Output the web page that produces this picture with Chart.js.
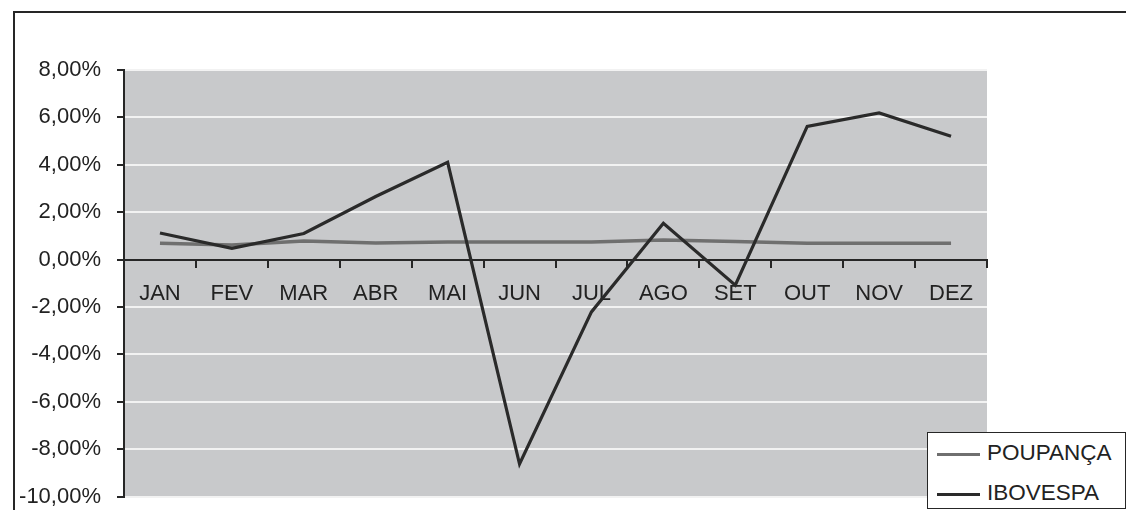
<!DOCTYPE html>
<html>
<head>
    <title>Poupança x Ibovespa</title>
    <script src="https://cdn.jsdelivr.net/npm/chart.js"></script>
    <style>
        body { margin: 0; background: #fff; overflow: hidden; }
        #wrap { position: relative; width: 1126px; height: 510px; }
        #frame { position: absolute; left: 13px; top: 11px; width: 1120px; height: 520px;
                 border-left: 2px solid #262626; border-top: 2px solid #262626; }
        #chart { position: absolute; left: 0; top: 0; }
        #legend { position: absolute; left: 927px; top: 432px; width: 197px; height: 75px;
                  border: 1px solid #262626; background: #fff;
                  font-family: "Liberation Sans", Arial, sans-serif; font-size: 22.5px; color: #222; }
        #legend .item { position: absolute; left: 9px; height: 24px; line-height: 24px; white-space: nowrap; }
        #legend .swatch { display: inline-block; width: 43px; height: 3px; vertical-align: middle; margin-right: 7px; }
    </style>
</head>
<body>
<div id="wrap">
    <div id="frame"></div>
    <canvas id="chart" width="1126" height="510"></canvas>
    <div id="legend"></div>
</div>
<script>
    var months = ['JAN', 'FEV', 'MAR', 'ABR', 'MAI', 'JUN', 'JUL', 'AGO', 'SET', 'OUT', 'NOV', 'DEZ'];
    var poupanca = [0.69, 0.61, 0.78, 0.70, 0.74, 0.74, 0.74, 0.83, 0.76, 0.69, 0.69, 0.69];
    var ibovespa = [1.12, 0.47, 1.10, 2.66, 4.10, -8.63, -2.21, 1.53, -1.08, 5.62, 6.19, 5.20];
    var seriesNames = ['POUPANÇA', 'IBOVESPA'];
    var seriesColors = ['#6f6f6f', '#2a2a2a'];

    var font = { family: '"Liberation Sans", Arial, sans-serif', size: 22 };

    // grey plot background
    var plotBg = {
        id: 'plotBg',
        beforeDraw: function(chart) {
            var a = chart.chartArea, ctx = chart.ctx;
            ctx.save();
            ctx.fillStyle = '#c8c9cb';
            ctx.fillRect(a.left, a.top, a.right - a.left, a.bottom - a.top);
            ctx.restore();
        }
    };

    // keep label overhang from shrinking the plot
    function noPad(scale) {
        scale.paddingTop = 0; scale.paddingBottom = 0;
        scale.paddingLeft = 0; scale.paddingRight = 0;
    }

    var ctx = document.getElementById('chart').getContext('2d');
    var chart = new Chart(ctx, {
        type: 'line',
        data: {
            labels: months,
            datasets: [{
                label: seriesNames[0],
                data: poupanca,
                borderColor: seriesColors[0],
                borderWidth: 3.5,
                order: 1
            }, {
                label: seriesNames[1],
                data: ibovespa,
                borderColor: seriesColors[1],
                borderWidth: 3.2,
                order: 0
            }]
        },
        options: {
            responsive: false,
            animation: false,
            layout: { padding: { top: 70, bottom: 13.5, left: 0, right: 139 } },
            elements: { point: { radius: 0 }, line: { tension: 0 } },
            plugins: { legend: { display: false }, tooltip: { enabled: false } },
            scales: {
                x: {
                    position: { y: 0 },
                    offset: true,
                    afterFit: function(scale) { scale.height = 0; noPad(scale); },
                    grid: { drawOnChartArea: false, offset: true, tickLength: 7, tickColor: '#262626', lineWidth: 2 },
                    border: { color: '#262626', width: 2 },
                    ticks: { font: font, color: '#222', padding: 14, maxRotation: 0, autoSkip: false }
                },
                y: {
                    min: -10,
                    max: 8,
                    afterFit: function(scale) { scale.width = 124; noPad(scale); },
                    grid: { color: '#f2f2f2', lineWidth: 2, tickLength: 7, tickColor: '#262626' },
                    border: { color: '#262626', width: 2 },
                    ticks: {
                        stepSize: 2,
                        font: font,
                        color: '#222',
                        padding: 16,
                        callback: function(v) { return v.toFixed(2).replace('.', ',') + '%'; }
                    }
                }
            }
        },
        plugins: [plotBg]
    });

    // legend box
    var legend = document.getElementById('legend');
    seriesNames.forEach(function(name, i) {
        var item = document.createElement('div');
        item.className = 'item';
        item.style.top = (8 + i * 40) + 'px';
        var sw = document.createElement('span');
        sw.className = 'swatch';
        sw.style.background = seriesColors[i];
        item.appendChild(sw);
        item.appendChild(document.createTextNode(name));
        legend.appendChild(item);
    });
</script>
</body>
</html>
